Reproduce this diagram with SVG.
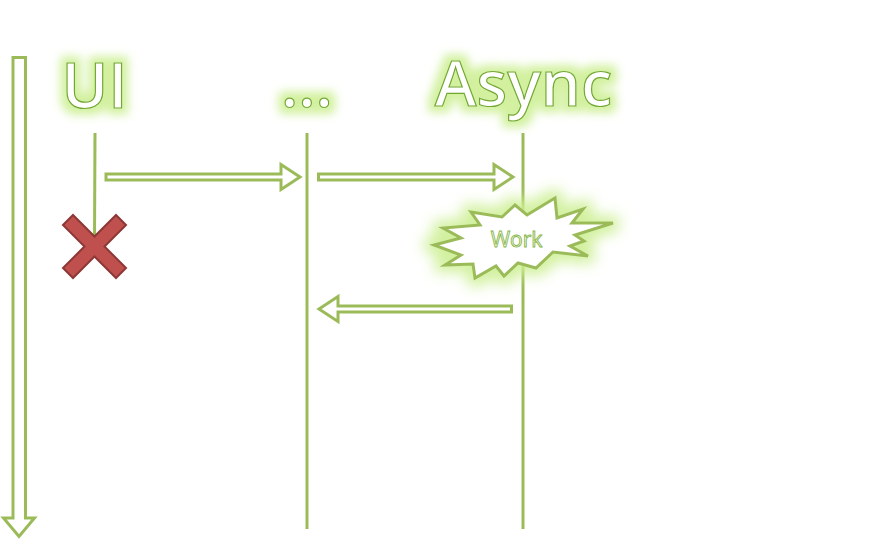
<svg xmlns="http://www.w3.org/2000/svg" width="890" height="541" viewBox="0 0 890 541">
<defs>
<filter id="glow" x="-40%" y="-60%" width="180%" height="220%">
<feMorphology in="SourceAlpha" operator="dilate" radius="6" result="d"/>
<feGaussianBlur in="d" stdDeviation="5" result="b"/>
<feFlood flood-color="#cdef94" flood-opacity="0.9"/>
<feComposite in2="b" operator="in" result="g"/>
<feMerge><feMergeNode in="g"/><feMergeNode in="SourceGraphic"/></feMerge>
</filter>
<filter id="glow2" x="-30%" y="-50%" width="160%" height="200%">
<feMorphology in="SourceAlpha" operator="dilate" radius="6" result="d"/>
<feGaussianBlur in="d" stdDeviation="7" result="b"/>
<feFlood flood-color="#cdef94" flood-opacity="0.9"/>
<feComposite in2="b" operator="in" result="g"/>
<feMerge><feMergeNode in="g"/><feMergeNode in="SourceGraphic"/></feMerge>
</filter>
<style>
.title{font-family:"Open Sans","DejaVu Sans",sans-serif;font-size:63px;font-weight:600;fill:#ffffff;stroke:#72a830;stroke-width:1.2px;text-anchor:middle;}
.life{stroke:#9bbb59;stroke-width:3;fill:none;}
.blk{fill:#ffffff;stroke:#9bbb59;stroke-width:3;stroke-linejoin:miter;}
.work{font-family:"Open Sans","DejaVu Sans",sans-serif;font-size:21px;fill:#ffffff;stroke:#86b545;stroke-width:0.9px;text-anchor:middle;}
</style>
</defs>
<rect width="890" height="541" fill="#ffffff"/>

<g id="time-arrow">
<polygon class="blk" points="13,57.5 25.5,57.5 25.5,518 34.5,518 19,536.5 3.5,518 13,518"/>
</g>

<g id="connectors">
<line class="life" x1="95" y1="133" x2="94.5" y2="240"/>
<line class="life" x1="307" y1="133" x2="307" y2="529"/>
<line class="life" x1="523" y1="133" x2="523" y2="529"/>
<polygon class="blk" points="106,174 281,174 281,164.5 300,177 281,189.5 281,180 106,180"/>
<polygon class="blk" points="318.5,174 494,174 494,164.5 513,177 494,189.5 494,180 318.5,180"/>
<polygon class="blk" points="319,309 338,296.5 338,306 511.5,306 511.5,312 338,312 338,321.5"/>
</g>

<g id="ui">
<text class="title" x="94.5" y="108" filter="url(#glow)">UI</text>
</g>
<g id="dots">
<text class="title" x="307" y="107" filter="url(#glow)">...</text>
</g>
<g id="async">
<text class="title" x="523.5" y="106" filter="url(#glow)">Async</text>
</g>

<g id="cancel">
<polygon transform="translate(94.5,246.5)" fill="#c0504d" stroke="#8c3836" stroke-width="2" stroke-linejoin="miter" points="-31.5,-21.5 -21.5,-31.5 0,-10 21.5,-31.5 31.5,-21.5 10,0 31.5,21.5 21.5,31.5 0,10 -21.5,31.5 -31.5,21.5 -10,0"/>
</g>

<g id="work">
<polygon filter="url(#glow2)" fill="#ffffff" stroke="#9bbb59" stroke-width="3" stroke-linejoin="miter" points="555,198 557,218 583,209 572,223 613,223 575,235 584,241 570,246 588,256 553,252 536,268 518,263 504,276 496,266 475,278 473,264 445,265 461,255 434,245 461,238 443,228 480,225 471,212 502,217 515,205 527,215"/>
<text class="work" x="516.5" y="247">Work</text>
</g>
</svg>
